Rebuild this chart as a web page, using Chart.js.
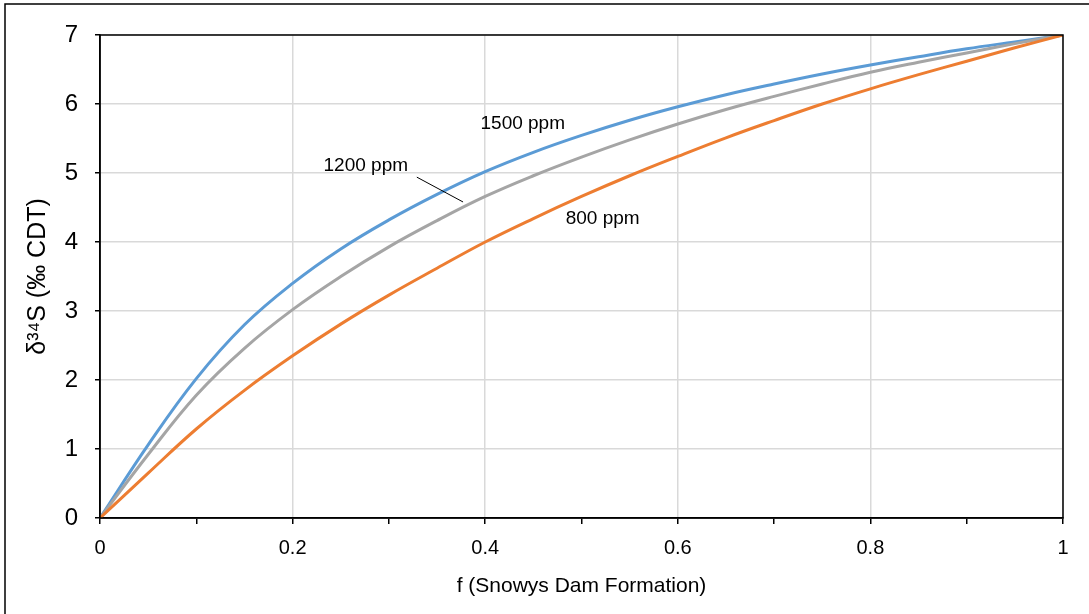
<!DOCTYPE html>
<html>
<head>
<meta charset="utf-8">
<script src="https://cdn.jsdelivr.net/npm/chart.js@4/dist/chart.umd.min.js"></script>
<style>
  html, body { margin: 0; padding: 0; background: #fff; }
  canvas { display: block; }
</style>
</head>
<body>
<canvas id="chart" width="1089" height="614"></canvas>
<script>
// fração f (eixo x)
const fValues = [0, 0.05, 0.1, 0.15, 0.2, 0.25, 0.3, 0.35, 0.4, 0.45, 0.5, 0.55, 0.6, 0.65, 0.7, 0.75, 0.8, 0.85, 0.9, 0.95, 1.0];

// curvas de δ34S para cada concentração
const ppm1500 = [0, 1.06, 2.02, 2.80, 3.40, 3.90, 4.32, 4.69, 5.02, 5.30, 5.545, 5.765, 5.96, 6.135, 6.29, 6.435, 6.565, 6.685, 6.80, 6.90, 7.0];
const ppm1200 = [0, 0.92, 1.78, 2.46, 3.02, 3.50, 3.93, 4.31, 4.66, 4.96, 5.23, 5.48, 5.71, 5.92, 6.11, 6.29, 6.46, 6.605, 6.74, 6.875, 7.0];
const ppm800  = [0, 0.65, 1.29, 1.85, 2.35, 2.81, 3.23, 3.62, 4.00, 4.34, 4.66, 4.96, 5.24, 5.51, 5.76, 6.00, 6.22, 6.425, 6.62, 6.815, 7.0];

// rótulos das curvas (posição em unidades dos dados)
const curveLabels = [
  { text: '1500 ppm', f: 0.439, v: 5.71 },
  { text: '1200 ppm', f: 0.276, v: 5.10 },
  { text: '800 ppm',  f: 0.522, v: 4.33 }
];
const leaderLine = { f1: 0.329, v1: 4.94, f2: 0.377, v2: 4.58 };

function toPoints(ys) {
  return fValues.map((f, i) => ({ x: f, y: ys[i] }));
}

// moldura externa, borda da área do gráfico e rótulos das curvas
const extrasPlugin = {
  id: 'extras',
  beforeDraw(chart) {
    const ctx = chart.ctx;
    ctx.save();
    ctx.fillStyle = '#fff';
    ctx.fillRect(0, 0, chart.width, chart.height);
    ctx.strokeStyle = '#000';
    ctx.lineWidth = 1.5;
    ctx.strokeRect(5, 4, chart.width + 20, chart.height + 20);
    ctx.restore();
  },
  afterDraw(chart) {
    const ctx = chart.ctx;
    const a = chart.chartArea;
    const xs = chart.scales.x, ys = chart.scales.y;
    ctx.save();
    ctx.strokeStyle = '#000';
    ctx.lineWidth = 1.5;
    ctx.strokeRect(a.left, a.top, a.right - a.left, a.bottom - a.top);

    ctx.font = '19px "Liberation Sans", Arial, sans-serif';
    ctx.fillStyle = '#000';
    ctx.textAlign = 'center';
    ctx.textBaseline = 'middle';
    curveLabels.forEach(l => {
      ctx.fillText(l.text, xs.getPixelForValue(l.f), ys.getPixelForValue(l.v));
    });

    ctx.lineWidth = 1;
    ctx.beginPath();
    ctx.moveTo(xs.getPixelForValue(leaderLine.f1), ys.getPixelForValue(leaderLine.v1));
    ctx.lineTo(xs.getPixelForValue(leaderLine.f2), ys.getPixelForValue(leaderLine.v2));
    ctx.stroke();
    ctx.restore();
  }
};

const lineStyle = { showLine: true, pointRadius: 0, borderWidth: 3, fill: false, tension: 0.4 };

new Chart(document.getElementById('chart').getContext('2d'), {
  type: 'scatter',
  data: {
    datasets: [
      Object.assign({ label: '800 ppm', data: toPoints(ppm800), borderColor: '#ED7D31' }, lineStyle),
      Object.assign({ label: '1200 ppm', data: toPoints(ppm1200), borderColor: '#A5A5A5' }, lineStyle),
      Object.assign({ label: '1500 ppm', data: toPoints(ppm1500), borderColor: '#5B9BD5' }, lineStyle)
    ]
  },
  options: {
    responsive: false,
    animation: false,
    layout: { padding: { left: 0, right: 26, top: 35, bottom: 0 } },
    plugins: { legend: { display: false }, tooltip: { enabled: false } },
    scales: {
      x: {
        type: 'linear',
        min: 0, max: 1,
        afterFit(scale) { scale.height = 96; },
        ticks: {
          stepSize: 0.1,
          padding: 12,
          color: '#000',
          font: { family: '"Liberation Sans Narrow", "Liberation Sans", Arial', size: 20 },
          maxRotation: 0,
          autoSkip: false,
          callback: v => {
            const n = Math.round(v * 10);
            return n % 2 === 0 ? String(n / 10) : '';
          }
        },
        grid: {
          color: c => (c.tick && Math.round(c.tick.value * 10) % 2 === 0) ? '#d9d9d9' : 'rgba(0,0,0,0)',
          lineWidth: 1.5,
          tickColor: '#000',
          tickLength: 6
        },
        border: { color: '#000', width: 1.5 },
        title: {
          display: true,
          text: 'f (Snowys Dam Formation)',
          color: '#000',
          font: { family: '"Liberation Sans", Arial', size: 21 },
          padding: { top: 0, bottom: 15 }
        }
      },
      y: {
        min: 0, max: 7,
        afterFit(scale) { scale.width = 100; },
        ticks: {
          stepSize: 1,
          padding: 17,
          color: '#000',
          font: { family: '"Liberation Sans", Arial', size: 24 }
        },
        grid: {
          color: '#d9d9d9',
          lineWidth: 1.5,
          tickColor: '#000',
          tickLength: 5
        },
        border: { color: '#000', width: 1.5 },
        title: {
          display: true,
          text: 'δ³⁴S (‰ CDT)',
          color: '#000',
          font: { family: '"Liberation Sans", Arial', size: 25 },
          padding: { top: 23, bottom: 0 }
        }
      }
    }
  },
  plugins: [extrasPlugin]
});
</script>
</body>
</html>
